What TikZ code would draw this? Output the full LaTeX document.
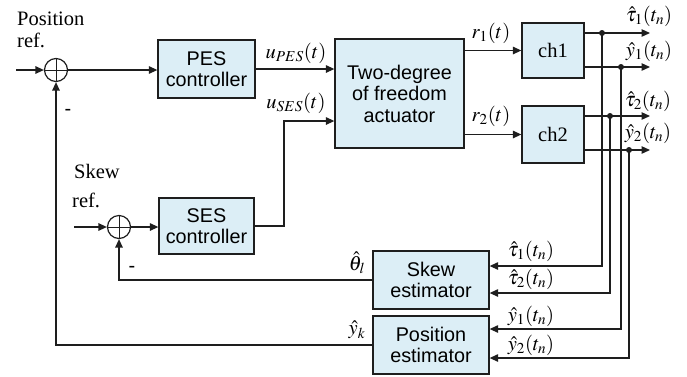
\documentclass[tikz,border=0pt]{standalone}
\usepackage{mathptmx}
\usepackage{fontspec}
\setmainfont{Liberation Serif}
\newfontfamily\blockfont{Liberation Sans}
\usetikzlibrary{arrows.meta,calc}
\definecolor{blockfill}{RGB}{220,238,246}
\definecolor{linecol}{RGB}{30,30,30}
\tikzset{
  block/.style={draw=linecol, line width=1.3pt, fill=blockfill, align=center,
    font=\blockfont\fontsize{19.8}{21.5}\selectfont, inner sep=0pt},
  sumnode/.style={draw=linecol, line width=1.2pt, circle, minimum size=23pt, inner sep=0pt,
    path picture={\draw[line width=0.9pt]
      (path picture bounding box.north) -- (path picture bounding box.south)
      (path picture bounding box.west) -- (path picture bounding box.east);}},
  wire/.style={draw=linecol, line width=1.25pt},
  arr/.style={wire, -{Triangle[length=8.5pt,width=7.5pt]}},
  lbl/.style={inner sep=0pt, font=\fontsize{20.5}{22}\selectfont},
  mlbl/.style={inner sep=0pt, font=\fontsize{20.5}{22}\selectfont},
  junction/.style={circle, fill=linecol, inner sep=0pt, minimum size=6pt},
}
\begin{document}
\begin{tikzpicture}[x=1pt,y=-1pt]
\useasboundingbox (0,0) rectangle (687,376);

% summing junctions and blocks
\node[sumnode] (s1) at (56,70) {};
\node[block, minimum width=97pt, minimum height=58pt] (pes) at (206.5,69) {PES\\controller};
\node[block, minimum width=129pt, minimum height=109pt] (act) at (399.5,93.5) {Two-degree\\of freedom\\actuator};
\node[block, minimum width=62pt, minimum height=55pt, font=\fontsize{20.5}{22}\selectfont] (ch1) at (553,50.5) {ch1};
\node[block, minimum width=62pt, minimum height=57pt, font=\fontsize{20.5}{22}\selectfont] (ch2) at (553,134.5) {ch2};
\node[sumnode] (s2) at (119,227) {};
\node[block, minimum width=95pt, minimum height=56pt] (ses) at (206.5,226) {SES\\controller};
\node[block, minimum width=116pt, minimum height=58pt] (skew) at (431,280) {Skew\\estimator};
\node[block, minimum width=116pt, minimum height=58pt] (pos) at (431,345) {Position\\estimator};

% free ends and branch points
\coordinate (in1) at (16,70);
\coordinate (in2) at (74,227);
\coordinate (bend) at (284,121);
\coordinate (o1) at (650,33);
\coordinate (o2) at (650,67);
\coordinate (o3) at (650,116);
\coordinate (o4) at (650,150);
\node[junction] (j1) at (602,33) {};
\node[junction] (j2) at (621,67) {};
\node[junction] (j3) at (610,116) {};
\node[junction] (j4) at (629,150) {};

% forward path
\draw[arr] (in1) -- (s1.west);
\draw[arr] (s1.east) -- (s1.east -| pes.west);
\draw[arr] (pes.east) -- (pes.east -| act.west);
\draw[arr] (in2) -- (s2.west);
\draw[arr] (s2.east) -- (s2.east -| ses.west);
\draw[arr] (ses.east) -| (bend) -- (bend -| act.west);
\draw[arr] (act.east |- ch1) -- (ch1.west);
\draw[arr] (act.east |- ch2) -- (ch2.west);

% channel outputs
\draw[arr] (o1 -| ch1.east) -- (o1);
\draw[arr] (o2 -| ch1.east) -- (o2);
\draw[arr] (o3 -| ch2.east) -- (o3);
\draw[arr] (o4 -| ch2.east) -- (o4);

% taps to the estimators
\draw[arr] (j1.center) |- ($(skew.east)+(0,-14)$);
\draw[arr] (j3.center) |- ($(skew.east)+(0,13)$);
\draw[arr] (j2.center) |- ($(pos.east)+(0,-16)$);
\draw[arr] (j4.center) |- ($(pos.east)+(0,13)$);

% feedback loops
\draw[arr] (skew.west) -| (s2.south);
\draw[arr] (pos.west) -| (s1.south);

% texts
\node[lbl, anchor=base west] (pref1) at (17,25) {Position};
\node[lbl, anchor=base west] (pref2) at (17,47) {ref.};
\node[lbl, anchor=base west] (sref1) at (74,178) {Skew};
\node[lbl, anchor=base west] (sref2) at (72,207) {ref.};
\node[lbl, font=\blockfont\fontsize{20}{22}\selectfont] (m1) at (68,112) {-};
\node[lbl, font=\blockfont\fontsize{20}{22}\selectfont] (m2) at (132,269) {-};

\node[mlbl] (upes) at (296,53) {$u_{PES}(t)$};
\node[mlbl] (uses) at (296,103) {$u_{SES}(t)$};
\node[mlbl] (r1) at (491,33) {$r_1(t)$};
\node[mlbl] (r2) at (491,116) {$r_2(t)$};

\node[mlbl] (ot1) at (649,16) {$\hat{\tau}_1(t_n)$};
\node[mlbl] (oy1) at (649,51) {$\hat{y}_1(t_n)$};
\node[mlbl] (ot2) at (648,101) {$\hat{\tau}_2(t_n)$};
\node[mlbl] (oy2) at (648,133) {$\hat{y}_2(t_n)$};

\node[mlbl] (et1) at (531,251) {$\hat{\tau}_1(t_n)$};
\node[mlbl] (et2) at (531,279) {$\hat{\tau}_2(t_n)$};
\node[mlbl] (ey1) at (531,316) {$\hat{y}_1(t_n)$};
\node[mlbl] (ey2) at (531,345) {$\hat{y}_2(t_n)$};

\node[mlbl] (th) at (357,263) {$\hat{\theta}_l$};
\node[mlbl] (yk) at (357,330) {$\hat{y}_k$};
\end{tikzpicture}
\end{document}
